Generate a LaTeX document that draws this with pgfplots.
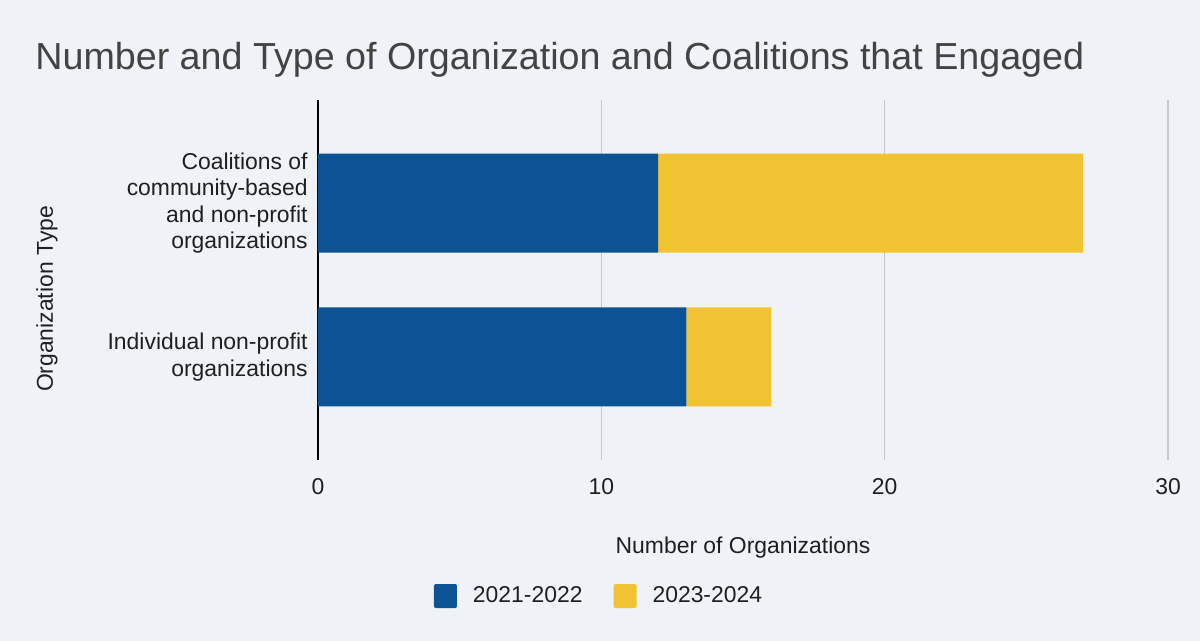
\documentclass[border=0pt]{standalone}
\usepackage{fontspec}
\setmainfont{Liberation Sans}
\usepackage{pgfplots}
\pgfplotsset{compat=1.18}
\definecolor{bg}{HTML}{EFF3F8}
\definecolor{blueA}{HTML}{0B5394}
\definecolor{yellowB}{HTML}{F1C232}
\definecolor{titlegray}{HTML}{434343}
\definecolor{gridgray}{HTML}{C6C8CC}
\definecolor{txt}{HTML}{1F1F1F}
\begin{document}
\begin{tikzpicture}[x=1bp,y=1bp]
\fill[bg] (0,0) rectangle (600,320.5);
\node[anchor=base west, inner sep=0pt, text=titlegray, font=\fontsize{18.9}{22}\selectfont]
  at (17.5,286) {Number and Type of Organization and Coalitions that Engaged};
\node[rotate=90, inner sep=0pt, text=txt, font=\fontsize{11.5}{13.3}\selectfont]
  at (23.5,171) {Organization Type};
\begin{axis}[
  at={(159bp,90.5bp)}, anchor=south west,
  scale only axis, width=425bp, height=180bp,
  xbar stacked, bar width=49.5bp,
  xmin=0, xmax=30, ymin=-0.67, ymax=1.67,
  xtick={0,10,20,30}, ytick={0,1},
  yticklabels={Individual non-profit\\organizations,
               Coalitions of\\community-based\\and non-profit\\organizations},
  major tick length=0pt,
  axis lines*=left,
  x axis line style={draw=none},
  y axis line style={black, line width=0.6bp},
  xmajorgrids, grid style={gridgray, line width=0.6bp},
  /pgf/number format/assume math mode=true,
  tick label style={text=txt, font=\fontsize{11.5}{13.3}\selectfont},
  yticklabel style={align=right, inner sep=0pt, xshift=-5bp},
  xticklabel style={inner sep=0pt, yshift=-9bp},
  xlabel={Number of Organizations},
  xlabel style={at={(axis description cs:0.5,0)}, anchor=center, yshift=-44bp,
                text=txt, font=\fontsize{11.5}{13.3}\selectfont},
  legend image code/.code={\fill[#1, rounded corners=1bp] (0bp,-6bp) rectangle (11.5bp,6bp);},
  legend style={draw=none, fill=none, at={(0.3318,-0.3778)}, anchor=center,
                legend columns=2, text=txt, font=\fontsize{11.5}{13.3}\selectfont,
                /tikz/every odd column/.append style={column sep=6bp},
                /tikz/every even column/.append style={column sep=13.5bp}},
  legend cell align=left,
]
\addplot[fill=blueA, draw=none] coordinates {(13,0) (12,1)};
\addplot[fill=yellowB, draw=none] coordinates {(3,0) (15,1)};
\legend{2021-2022, 2023-2024}
\end{axis}
\end{tikzpicture}
\end{document}
